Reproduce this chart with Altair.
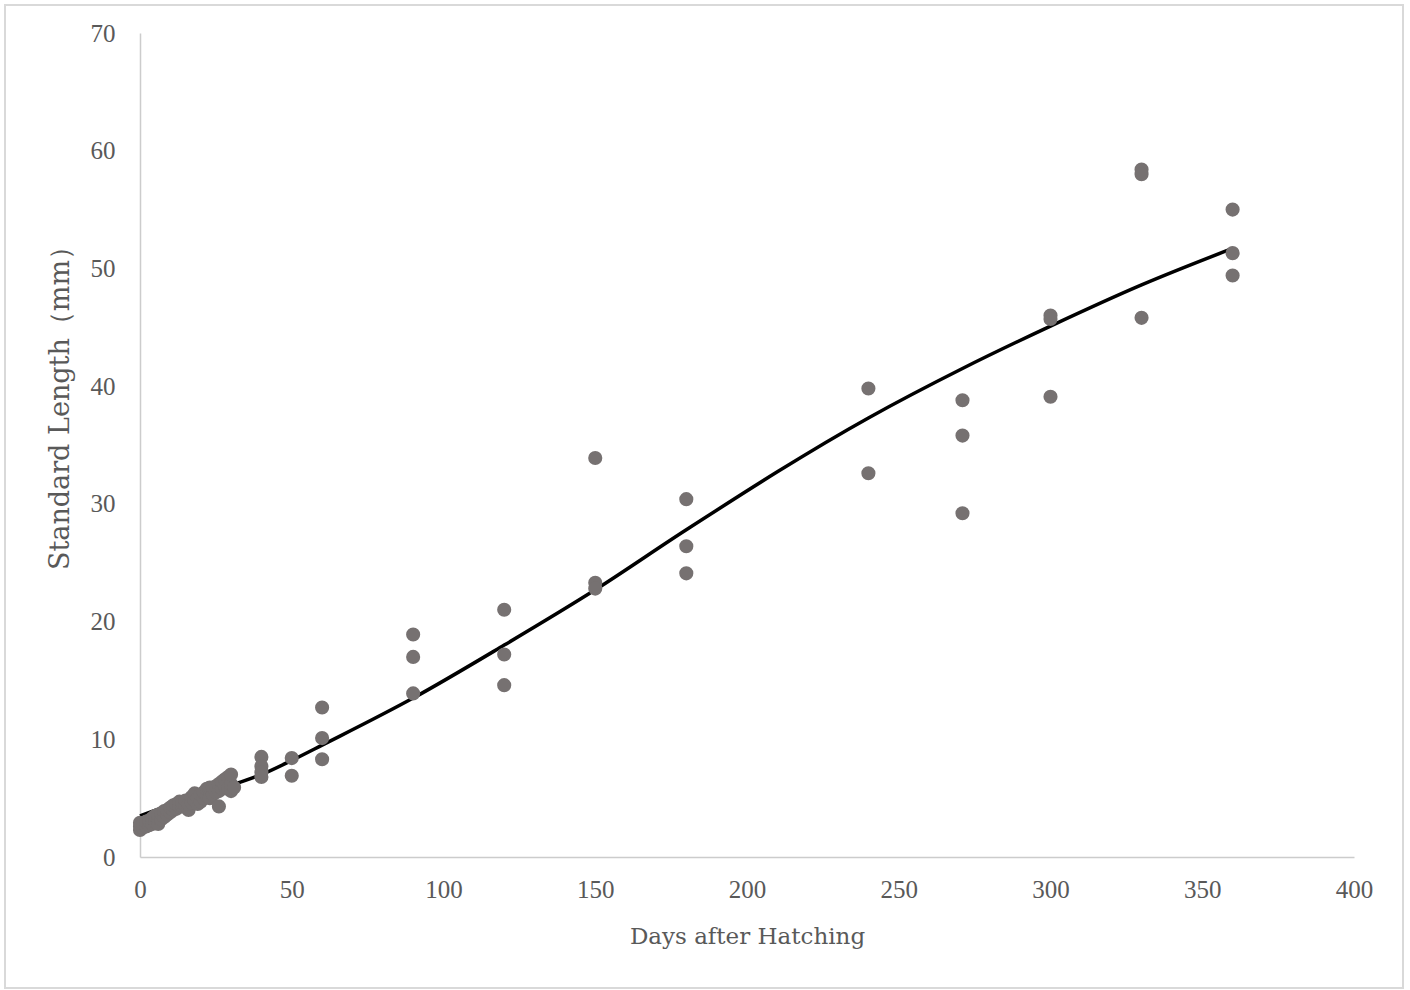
import altair as alt
import pandas as pd

# Observed fish (scatter)
obs_days = [
    0, 0, 0, 1, 1, 2, 2, 3, 3, 4, 4, 5, 5, 6, 6, 6, 7, 7, 8, 8, 9, 9,
    10, 10, 11, 11, 12, 12, 13, 13, 14, 14, 15, 15, 16, 16, 17, 17,
    18, 18, 19, 19, 20, 20, 21, 21, 22, 22, 23, 23, 23, 24, 24, 25, 25,
    26, 26, 26, 27, 27, 28, 28, 29, 29, 30, 30, 30, 31,
    40, 40, 40, 40, 50, 50, 60, 60, 60,
    90, 90, 90, 120, 120, 120, 150, 150, 150, 180, 180, 180,
    240, 240, 271, 271, 271, 300, 300, 300, 330, 330, 330, 360, 360, 360,
]
obs_length = [
    2.3, 2.6, 2.9, 2.5, 2.8, 2.6, 3.0, 2.7, 3.1, 2.8, 3.3, 3.0, 3.5, 2.8, 3.3, 3.6,
    3.2, 3.7, 3.4, 3.9, 3.6, 4.0,
    3.8, 4.2, 4.0, 4.4, 4.1, 4.5, 4.3, 4.7, 4.3, 4.6, 4.4, 4.8, 4.0, 4.5, 4.6, 5.1,
    4.8, 5.4, 4.5, 5.0, 4.7, 5.3, 5.0, 5.5, 5.2, 5.8, 5.0, 5.6, 5.9, 5.3, 5.9, 5.5, 6.0,
    4.3, 5.6, 6.2, 5.8, 6.4, 6.0, 6.6, 5.8, 6.8, 5.6, 6.2, 7.0, 5.9,
    8.5, 7.7, 7.2, 6.8, 8.4, 6.9, 12.7, 10.1, 8.3,
    18.9, 17.0, 13.9, 21.0, 17.2, 14.6, 33.9, 23.3, 22.8, 30.4, 26.4, 24.1,
    39.8, 32.6, 38.8, 35.8, 29.2, 46.0, 45.7, 39.1, 58.4, 58.0, 45.8, 55.0, 51.3, 49.4,
]

# Fitted growth curve
fit_days = [0, 10, 20, 30, 40, 50, 60, 90, 120, 150, 180, 240, 271, 300, 330, 360]
fit_length = [3.5, 4.4, 5.2, 6.1, 7.0, 8.2, 9.5, 13.5, 18.0, 22.7, 27.8, 37.3, 41.5, 45.1, 48.6, 51.7]

x_ticks = [0, 50, 100, 150, 200, 250, 300, 350, 400]
y_ticks = [0, 10, 20, 30, 40, 50, 60, 70]

obs = pd.DataFrame({"day": obs_days, "sl": obs_length})
fit = pd.DataFrame({"day": fit_days, "sl": fit_length})

FONT = "Liberation Serif"
TFONT = "DejaVu Serif"
LABEL = "#595959"
AXIS = "#cccccc"

xs = alt.Scale(domain=[0, 400], nice=False, zero=True)
ys = alt.Scale(domain=[0, 70], nice=False, zero=True)

x_axis = alt.Axis(
    values=x_ticks, title="Days after Hatching", grid=False, ticks=False,
    domainColor=AXIS, domainWidth=1.5, labelFont=FONT, labelFontSize=25,
    labelColor=LABEL, labelPadding=20, labelFlush=False,
    titleFont=TFONT, titleFontSize=23, titleFontWeight="normal", titleColor=LABEL,
    titleX=607, titleY=86, titleBaseline="alphabetic", titleAlign="center",
)
y_axis = alt.Axis(
    values=y_ticks, title="Standard Length（mm）", grid=False, ticks=False,
    domainColor=AXIS, domainWidth=1.5, labelFont=FONT, labelFontSize=25,
    labelColor=LABEL, labelPadding=25, labelFlush=False,
    titleFont=TFONT, titleFontSize=27, titleFontWeight="normal", titleColor=LABEL,
    titleAngle=270, titleX=-72, titleY=368, titleBaseline="alphabetic", titleAlign="center",
)

line = alt.Chart(fit).mark_line(color="black", strokeWidth=3.5, interpolate="monotone").encode(
    x=alt.X("day:Q", scale=xs, axis=x_axis),
    y=alt.Y("sl:Q", scale=ys, axis=y_axis),
)

points = alt.Chart(obs).mark_circle(color="#767171", opacity=1, size=200).encode(
    x=alt.X("day:Q", scale=xs),
    y=alt.Y("sl:Q", scale=ys),
)

border = alt.Chart(pd.DataFrame({"a": [0]})).mark_rect(
    filled=False, stroke="#d9d9d9", strokeWidth=2, fill=None
).encode(
    x=alt.value(-135), x2=alt.value(1263), y=alt.value(-28), y2=alt.value(955)
)

chart = alt.layer(border, line, points).properties(
    width=1214, height=824,
    autosize=alt.AutoSizeParams(type="none"),
    padding={"left": 140, "top": 33, "right": 56, "bottom": 133},
    background="white",
).configure_view(stroke=None)

chart.save("out.html", embed_options={"renderer": "svg", "actions": False})
